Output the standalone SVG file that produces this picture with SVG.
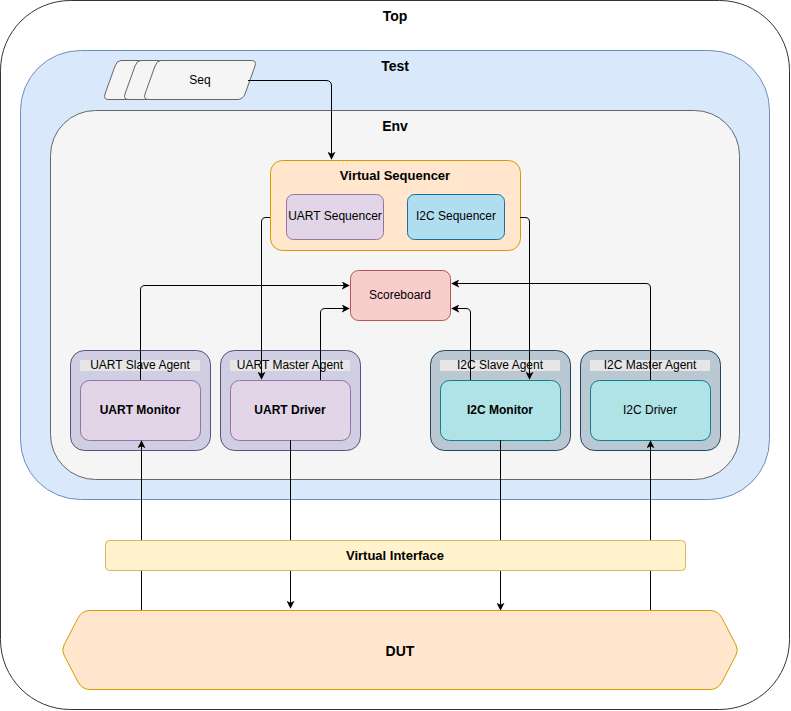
<svg xmlns="http://www.w3.org/2000/svg" width="791" height="711" viewBox="0 0 791 711">
<defs>
<marker id="arr" viewBox="0 0 10 10" refX="9" refY="5" markerWidth="8" markerHeight="8" markerUnits="userSpaceOnUse" orient="auto">
<path d="M0,0 L10,5 L0,10 L2.5,5 Z" fill="#000"/>
</marker>
<style>
text{font-family:Helvetica,"Liberation Sans",Arial,sans-serif;fill:#000;text-anchor:middle;dominant-baseline:central}
.t{font-size:14px;font-weight:bold}
.s{font-size:12px}
.b{font-size:12px;font-weight:bold}
.vs{font-size:13px;font-weight:bold}
.conn path{fill:none;stroke:#000;stroke-width:1}
.ua{fill:#d0cee2;stroke:#56517e}
.ia{fill:#bac8d3;stroke:#23445d}
.ui{fill:#e1d5e7;stroke:#9673a6}
.ii{fill:#b0e3e6;stroke:#0e8088}
.band{fill:#e6e6e6;stroke:none}
</style>
</defs>
<g id="top"><rect x="0.5" y="0.5" width="789" height="709" rx="70" fill="#fff" stroke="#333"/><text class="t" x="395" y="16">Top</text></g>
<g id="test"><rect x="20.5" y="50.5" width="749" height="449" rx="60" fill="#dae8fc" stroke="#6c8ebf"/><text class="t" x="395" y="66">Test</text></g>
<g id="env"><rect x="50.5" y="110.5" width="689" height="369" rx="45" fill="#f5f5f5" stroke="#666"/><text class="t" x="395" y="126">Env</text></g>
<g id="seq" fill="#f5f5f5" stroke="#666">
<path d="M121,60.5 L211,60.5 Q217,60.5 215,66 L205,94 Q203,99.5 197,99.5 L109,99.5 Q103,99.5 105,94 L115,66 Q117,60.5 121,60.5 Z"/>
<path d="M141,60.5 L231,60.5 Q237,60.5 235,66 L225,94 Q223,99.5 217,99.5 L129,99.5 Q123,99.5 125,94 L135,66 Q137,60.5 141,60.5 Z"/>
<path d="M161,60.5 L251,60.5 Q257,60.5 255,66 L245,94 Q243,99.5 237,99.5 L149,99.5 Q143,99.5 145,94 L155,66 Q157,60.5 161,60.5 Z"/>
<text class="s" x="200" y="80" stroke="none">Seq</text>
</g>
<g id="virtual-sequencer"><rect x="270.5" y="160.5" width="250" height="90" rx="12" fill="#ffe6cc" stroke="#d79b00"/><text class="vs" x="395" y="175">Virtual Sequencer</text></g>
<g id="uart-sequencer"><rect x="286.5" y="194.5" width="97" height="45" rx="7" fill="#e1d5e7" stroke="#9673a6"/><text class="s" x="335" y="216">UART Sequencer</text></g>
<g id="i2c-sequencer"><rect x="407.5" y="194.5" width="97" height="45" rx="7" fill="#b1ddf0" stroke="#10739e"/><text class="s" x="456" y="216">I2C Sequencer</text></g>
<g id="scoreboard"><rect x="350.5" y="270.5" width="100" height="50" rx="8" fill="#f8cecc" stroke="#b85450"/><text class="s" x="400" y="295">Scoreboard</text></g>
<g id="uart-slave-agent"><rect class="ua" x="70.5" y="350.5" width="140" height="100" rx="14"/><rect class="band" x="80" y="360" width="120" height="11"/><text class="s" x="140" y="365">UART Slave Agent</text></g>
<g id="uart-monitor"><rect class="ui" x="80.5" y="380.5" width="120" height="60" rx="9"/><text class="b" x="140" y="410">UART Monitor</text></g>
<g id="uart-master-agent"><rect class="ua" x="220.5" y="350.5" width="140" height="100" rx="14"/><rect class="band" x="230" y="360" width="120" height="11"/><text class="s" x="290" y="365">UART Master Agent</text></g>
<g id="uart-driver"><rect class="ui" x="230.5" y="380.5" width="120" height="60" rx="9"/><text class="b" x="290" y="410">UART Driver</text></g>
<g id="i2c-slave-agent"><rect class="ia" x="430.5" y="350.5" width="140" height="100" rx="14"/><rect class="band" x="440" y="360" width="120" height="11"/><text class="s" x="500" y="365">I2C Slave Agent</text></g>
<g id="i2c-monitor"><rect class="ii" x="440.5" y="380.5" width="120" height="60" rx="9"/><text class="b" x="500" y="410">I2C Monitor</text></g>
<g id="i2c-master-agent"><rect class="ia" x="580.5" y="350.5" width="140" height="100" rx="14"/><rect class="band" x="590" y="360" width="120" height="11"/><text class="s" x="650" y="365">I2C Master Agent</text></g>
<g id="i2c-driver"><rect class="ii" x="590.5" y="380.5" width="120" height="60" rx="9"/><text class="s" x="650" y="410">I2C Driver</text></g>
<g class="conn" id="connectors">
<path d="M248,80.5 L326,80.5 Q331.5,80.5 331.5,86 L331.5,159" marker-end="url(#arr)"/>
<path d="M270,217.5 L266,217.5 Q261.5,217.5 261.5,222 L261.5,379" marker-end="url(#arr)"/>
<path d="M520,217.5 L525,217.5 Q529.5,217.5 529.5,222 L529.5,379" marker-end="url(#arr)"/>
<path d="M140.5,380 L140.5,290 Q140.5,285.5 145,285.5 L349,285.5" marker-end="url(#arr)"/>
<path d="M320.5,380 L320.5,313 Q320.5,308.5 325,308.5 L349,308.5" marker-end="url(#arr)"/>
<path d="M470.5,380 L470.5,313 Q470.5,308.5 466,308.5 L452,308.5" marker-end="url(#arr)"/>
<path d="M650.5,380 L650.5,288 Q650.5,283.5 646,283.5 L452,283.5" marker-end="url(#arr)"/>
<path d="M141.5,610 L141.5,441" marker-end="url(#arr)"/>
<path d="M290.5,440 L290.5,608" marker-end="url(#arr)"/>
<path d="M500.5,440 L500.5,610" marker-end="url(#arr)"/>
<path d="M650.5,610 L650.5,441" marker-end="url(#arr)"/>
</g>
<g id="virtual-interface"><rect x="105.5" y="540.5" width="580" height="30" rx="4" fill="#fff2cc" stroke="#d6b656"/><text class="vs" x="395" y="555">Virtual Interface</text></g>
<g id="dut"><path d="M90,610.5 L710,610.5 Q718,610.5 722,618 L736,645 Q738.5,650 736,655 L722,682 Q718,689.5 710,689.5 L90,689.5 Q82,689.5 78,682 L64,655 Q61.5,650 64,645 L78,618 Q82,610.5 90,610.5 Z" fill="#ffe6cc" stroke="#d79b00"/><text class="t" x="400" y="651">DUT</text></g>
</svg>
